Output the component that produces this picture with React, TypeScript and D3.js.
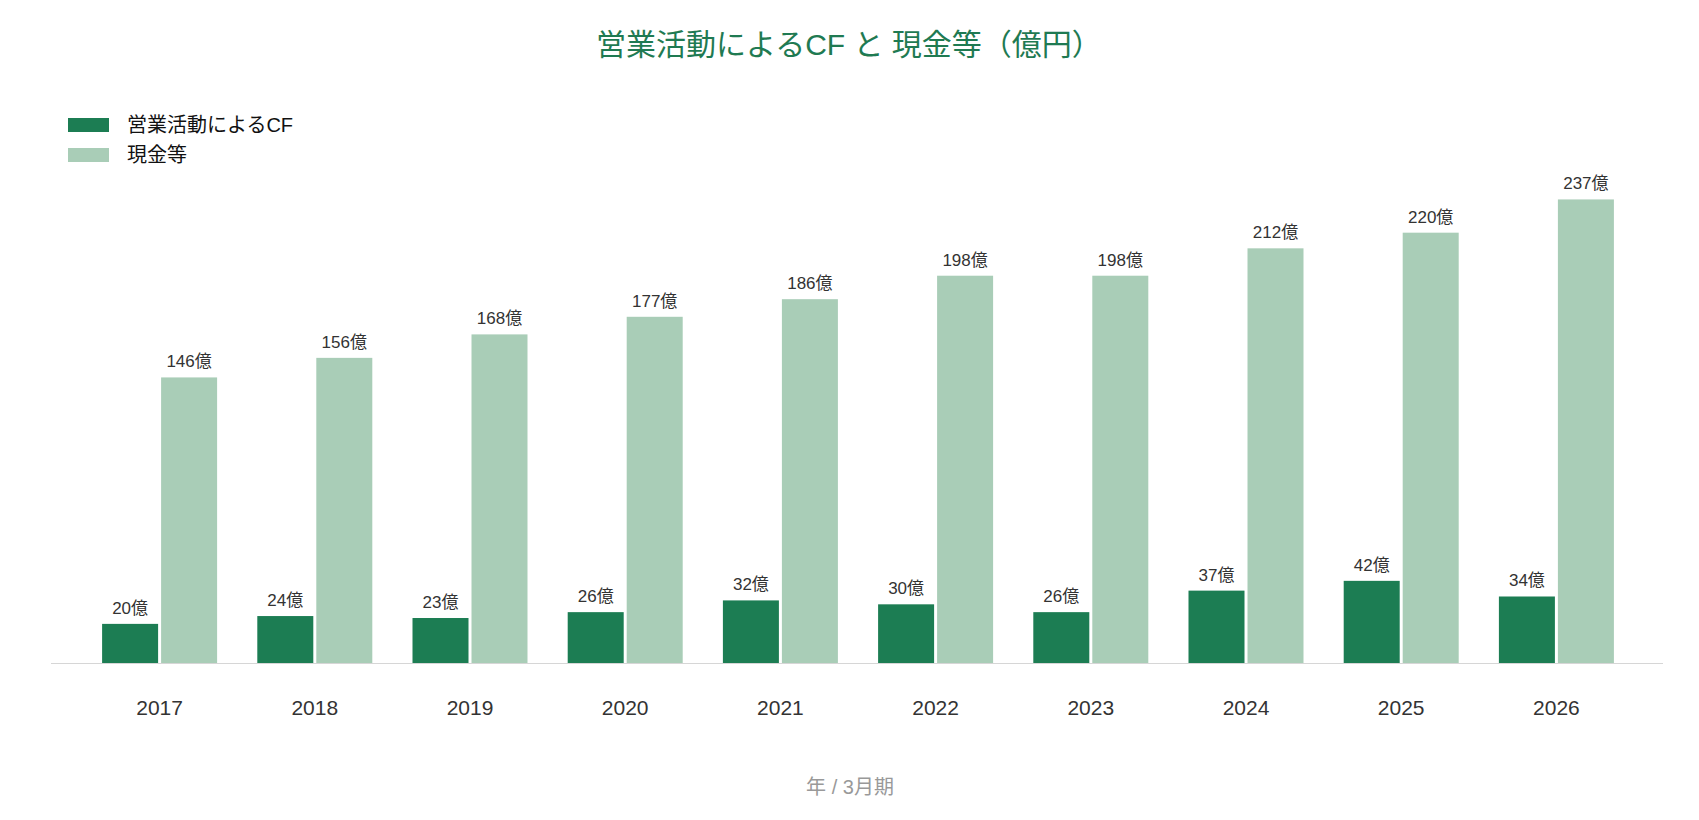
import { useEffect, useRef } from "react";
import * as d3 from "d3";

const years = ["2017", "2018", "2019", "2020", "2021", "2022", "2023", "2024", "2025", "2026"];
const operatingCF = [20, 24, 23, 26, 32, 30, 26, 37, 42, 34];
const cashEtc = [146, 156, 168, 177, 186, 198, 198, 212, 220, 237];
const seriesNames = ["営業活動によるCF", "現金等"];
const seriesColors = ["#1c7d53", "#a9cdb7"];

const W = 1699;
const H = 820;
const FONT = "'Liberation Sans', 'Noto Sans CJK JP', sans-serif";

function App() {
    const svgRef = useRef<SVGSVGElement | null>(null);

    useEffect(() => {
        const svg = d3.select(svgRef.current!);
        svg.selectAll("*").remove();

        const baseY = 663;
        const x = d3.scaleBand<string>().domain(years).range([82, 1634]);
        const y = d3.scaleLinear().domain([0, 250]).range([baseY, 174]);
        const bw = 56;
        const gap = 3;

        // title
        svg.append("text")
            .attr("x", 849).attr("y", 55)
            .attr("text-anchor", "middle")
            .attr("font-size", 30)
            .attr("fill", "#1f7a52")
            .text("営業活動によるCF と 現金等（億円）");

        // legend
        const lg = svg.append("g").attr("transform", "translate(68,118)");
        seriesNames.forEach((name, i) => {
            lg.append("rect").attr("x", 0).attr("y", i * 30).attr("width", 41).attr("height", 14)
                .attr("fill", seriesColors[i]);
            lg.append("text").attr("x", 59).attr("y", i * 30 + 14)
                .attr("font-size", 20).attr("fill", "#111").text(name);
        });

        // baseline
        svg.append("line")
            .attr("x1", 51).attr("x2", 1663).attr("y1", baseY + 0.5).attr("y2", baseY + 0.5)
            .attr("stroke", "#d6d6d6").attr("stroke-width", 1);

        const series = [operatingCF, cashEtc];
        series.forEach((vals, si) => {
            const g = svg.append("g");
            const xOff = (d: string) => x(d)! + x.bandwidth() / 2 + (si === 0 ? -bw - gap / 2 : gap / 2);
            g.selectAll("rect")
                .data(years)
                .enter().append("rect")
                .attr("x", d => xOff(d))
                .attr("y", (d, i) => y(vals[i]))
                .attr("width", bw)
                .attr("height", (d, i) => baseY - y(vals[i]))
                .attr("fill", seriesColors[si]);
            g.selectAll("text")
                .data(years)
                .enter().append("text")
                .attr("x", d => xOff(d) + bw / 2)
                .attr("y", (d, i) => y(vals[i]) - 10)
                .attr("text-anchor", "middle")
                .attr("font-size", 17)
                .attr("fill", "#333")
                .text((d, i) => `${vals[i]}億`);
        });

        // x axis labels
        svg.append("g").selectAll("text")
            .data(years)
            .enter().append("text")
            .attr("x", d => x(d)! + x.bandwidth() / 2)
            .attr("y", 715)
            .attr("text-anchor", "middle")
            .attr("font-size", 21)
            .attr("fill", "#333")
            .text(d => d);

        svg.append("text")
            .attr("x", 850).attr("y", 794)
            .attr("text-anchor", "middle")
            .attr("font-size", 20)
            .attr("fill", "#999")
            .text("年 / 3月期");
    }, []);

    return (
        <svg ref={svgRef} width={W} height={H}
            style={{ position: "absolute", left: 0, top: 0, fontFamily: FONT, background: "#fff" }} />
    );
}

export default App;
